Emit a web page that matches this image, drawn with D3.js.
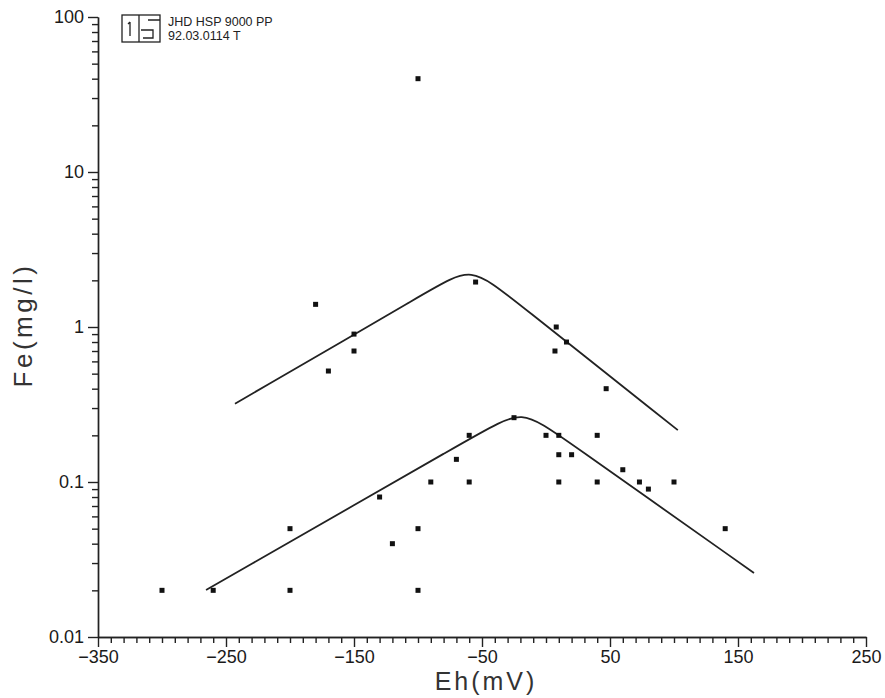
<!DOCTYPE html>
<html>
<head>
<meta charset="utf-8">
<script src="https://cdn.jsdelivr.net/npm/d3@7"></script>
<style>
  body { margin: 0; background: #fff; }
  svg { display: block; font-family: "Liberation Sans", Arial, sans-serif; }
  .axis path, .axis line { stroke: #222; stroke-width: 1.4; }
  .axis text { fill: #1a1a1a; font-size: 18px; font-family: "Liberation Sans", Arial, sans-serif; }
  .axisTitle { fill: #333; font-size: 25px; }
  .fit { fill: none; stroke: #222; stroke-width: 1.8; }
</style>
</head>
<body>
<script>
// measured points, Eh (mV) and Fe (mg/l)
var ptEh = [-100, -180, -150, -150, -170, -55, 8, 7, 16, 47,
            -300, -260, -200, -200, -100, -100, -120, -130, -90, -60, -70, -60, -25,
            0, 10, 40, 10, 20, 10, 40, 60, 73, 80, 100, 140];
var ptFe = [40, 1.4, 0.9, 0.7, 0.52, 1.95, 1.0, 0.7, 0.8, 0.4,
            0.02, 0.02, 0.02, 0.05, 0.02, 0.05, 0.04, 0.08, 0.1, 0.1, 0.14, 0.2, 0.26,
            0.2, 0.2, 0.2, 0.15, 0.15, 0.1, 0.1, 0.12, 0.1, 0.09, 0.1, 0.05];

// fitted envelope lines (control points, rounded at the apex)
var upperEh = [-243, -88, -58.6, -28, 103];
var upperFe = [0.32, 1.77, 2.48, 1.56, 0.216];
var lowerEh = [-265.6, -49, -19, 11, 162.5];
var lowerFe = [0.0201, 0.213, 0.296, 0.198, 0.0259];

var xMajor = [-350, -250, -150, -50, 50, 150, 250];
var yMajor = [0.01, 0.1, 1, 10, 100];
var yLabels = ["0.01", "0.1", "1", "10", "100"];

var width = 885, height = 698;

var x = d3.scaleLinear().domain([-350, 250]).range([98, 866]);
var y = d3.scaleLog().domain([0.01, 100]).range([637, 17]);

var svg = d3.select("body").append("svg")
    .attr("width", width).attr("height", height);

// minor ticks
var xMinor = d3.range(-350, 251, 10).filter(function(v){ return xMajor.indexOf(v) < 0; });
var yMinor = [];
[0.01, 0.1, 1, 10].forEach(function(d){
  for (var k = 2; k <= 9; k++) yMinor.push(d * k);
});

svg.append("g").attr("class", "x axis")
  .attr("transform", "translate(0," + y(0.01) + ")")
  .call(d3.axisBottom(x).tickValues(xMinor).tickSize(6).tickSizeOuter(0).tickFormat(""));
svg.append("g").attr("class", "x axis")
  .attr("transform", "translate(0," + y(0.01) + ")")
  .call(d3.axisBottom(x).tickValues(xMajor).tickSize(10).tickSizeOuter(0).tickPadding(3)
    .tickFormat(function(d){ return String(d).replace("-", "\u2212"); }));

svg.append("g").attr("class", "y axis")
  .attr("transform", "translate(" + x(-350) + ",0)")
  .call(d3.axisLeft(y).tickValues(yMinor).tickSize(6).tickSizeOuter(0).tickFormat(""));
svg.append("g").attr("class", "y axis")
  .attr("transform", "translate(" + x(-350) + ",0)")
  .call(d3.axisLeft(y).tickValues(yMajor).tickSize(10).tickSizeOuter(0).tickPadding(4)
    .tickFormat(function(d, i){ return yLabels[i]; }));

// fitted lines
var line = d3.line()
  .x(function(d){ return x(d[0]); })
  .y(function(d){ return y(d[1]); })
  .curve(d3.curveBasis);

svg.append("path").attr("class", "fit")
  .attr("d", line(d3.zip(upperEh, upperFe)));
svg.append("path").attr("class", "fit")
  .attr("d", line(d3.zip(lowerEh, lowerFe)));

// points
svg.selectAll(".pt").data(d3.zip(ptEh, ptFe)).enter().append("rect")
  .attr("class", "pt")
  .attr("x", function(d){ return x(d[0]) - 2.5; })
  .attr("y", function(d){ return y(d[1]) - 2.5; })
  .attr("width", 5).attr("height", 5)
  .attr("fill", "#111");

// axis titles
svg.append("text").attr("class", "axisTitle")
  .attr("x", 486).attr("y", 690)
  .attr("text-anchor", "middle")
  .style("letter-spacing", "3px")
  .text("Eh(mV)");

svg.append("text").attr("class", "axisTitle")
  .attr("transform", "translate(32,325) rotate(-90)")
  .attr("text-anchor", "middle")
  .style("letter-spacing", "3.5px")
  .style("font-size", "26px")
  .text("Fe(mg/l)");

// stamp in the corner
var stamp = svg.append("g").attr("fill", "none").attr("stroke", "#222").attr("stroke-width", 1.3);
stamp.append("rect").attr("x", 122).attr("y", 15).attr("width", 38).attr("height", 27);
stamp.append("path").attr("d", "M139,15V42");
stamp.append("path").attr("d", "M130,22V36M128,24L130,22");
stamp.append("path").attr("d", "M148,20H160M141,30H153V38H143");

svg.append("text").attr("x", 168).attr("y", 26)
  .style("font-size", "12.5px").attr("fill", "#222")
  .text("JHD HSP 9000 PP");
svg.append("text").attr("x", 168).attr("y", 40)
  .style("font-size", "12.5px").attr("fill", "#222")
  .text("92.03.0114 T");
</script>
</body>
</html>
